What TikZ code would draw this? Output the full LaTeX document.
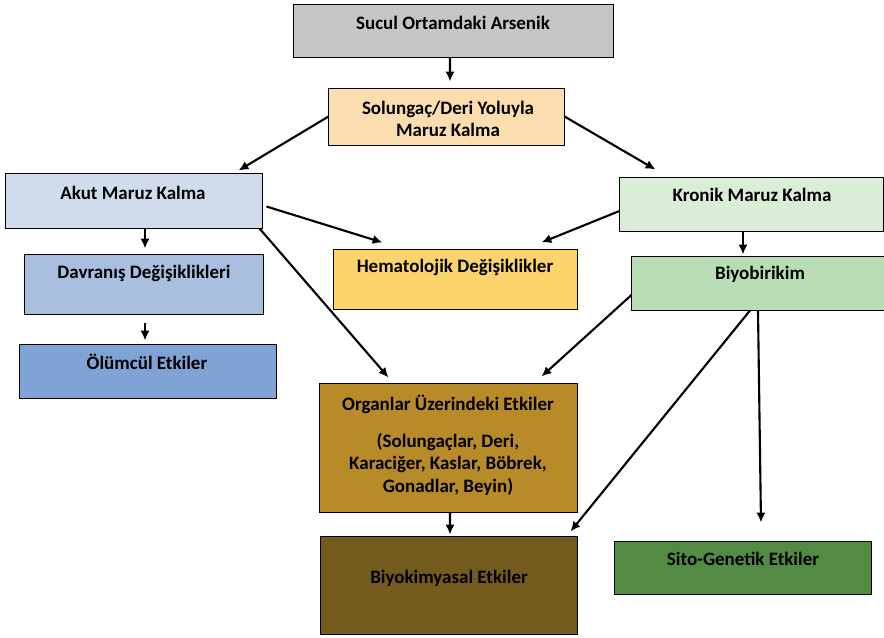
\documentclass[tikz,border=0pt]{standalone}
\usepackage{fontspec}
\setmainfont{Carlito}
\usepackage{tikz}
\usetikzlibrary{arrows.meta,calc}
\usepackage{xcolor}
\tikzset{>={Latex[length=7pt,width=6.5pt]}}
\definecolor{suculGray}{HTML}{C6C6C6}
\definecolor{maruzPeach}{HTML}{FCDDB0}
\definecolor{akutBlue}{HTML}{D0DCEC}
\definecolor{kronikGreen}{HTML}{DAEDD6}
\definecolor{davranisBlue}{HTML}{A9BFE0}
\definecolor{hematYellow}{HTML}{FCD46C}
\definecolor{biyobGreen}{HTML}{B8DDB4}
\definecolor{olumBlue}{HTML}{7FA3D5}
\definecolor{organGold}{HTML}{B78B28}
\definecolor{biyokBrown}{HTML}{735A1D}
\definecolor{sitoGreen}{HTML}{548B44}

\begin{document}
\begin{tikzpicture}[x=0.025cm, y=-0.025cm]
                \tikzstyle{box}=[rectangle, draw=black, line width=0.7pt, inner sep=0pt]
                \tikzstyle{lbl}=[align=center, inner sep=0pt, font=\fontsize{13.5}{16}\selectfont\bfseries]
                \tikzstyle{arr}=[->, line width=1.5pt]
                \useasboundingbox (0,0) rectangle (884,638);
                % boxes
                \node[box, fill=suculGray, minimum width=7.975cm, minimum height=1.325cm] (sucul) at (453.5,30.5) {};
                \node[box, fill=maruzPeach, minimum width=5.875cm, minimum height=1.425cm] (solungac) at (446.5,116.5) {};
                \node[box, fill=akutBlue, minimum width=6.4cm, minimum height=1.375cm] (akut) at (134,200.5) {};
                \node[box, fill=kronikGreen, minimum width=6.575cm, minimum height=1.35cm] (kronik) at (751.5,204) {};
                \node[box, fill=davranisBlue, minimum width=5.95cm, minimum height=1.5cm] (davranis) at (144,284) {};
                \node[box, fill=hematYellow, minimum width=6.075cm, minimum height=1.5cm] (hemat) at (455.5,279) {};
                \node[box, fill=biyobGreen, minimum width=6.3cm, minimum height=1.35cm] (biyob) at (758,283) {};
                \node[box, fill=olumBlue, minimum width=6.4cm, minimum height=1.35cm] (olumcul) at (148,371) {};
                \node[box, fill=organGold, minimum width=6.425cm, minimum height=3.2cm] (organ) at (448.5,448) {};
                \node[box, fill=biyokBrown, minimum width=6.4cm, minimum height=2.425cm] (biyok) at (449,585.5) {};
                \node[box, fill=sitoGreen, minimum width=6.4cm, minimum height=1.325cm] (sito) at (743,567.5) {};
                % texts
                \node[lbl] (sucul-t) at (453,23) {Sucul Ortamdaki Arsenik};
                \node[lbl] (solungac-t) at (448,119) {Solungaç/Deri Yoluyla\\Maruz Kalma};
                \node[lbl] (akut-t) at (133,193) {Akut Maruz Kalma};
                \node[lbl] (kronik-t) at (752,195) {Kronik Maruz Kalma};
                \node[lbl] (davranis-t) at (144,273) {Davranış Değişiklikleri};
                \node[lbl] (hemat-t) at (455,267) {Hematolojik Değişiklikler};
                \node[lbl] (biyob-t) at (760,274) {Biyobirikim};
                \node[lbl] (olumcul-t) at (147,362) {Ölümcül Etkiler};
                \node[lbl, anchor=north] (organ-t) at (448,395) {Organlar Üzerindeki Etkiler\\[10pt](Solungaçlar, Deri,\\Karaciğer, Kaslar, Böbrek,\\Gonadlar, Beyin)};
                \node[lbl] (biyok-t) at (449,578) {Biyokimyasal Etkiler};
                \node[lbl] (sito-t) at (743,559) {Sito-Genetik Etkiler};
                % arrows
                \draw[arr] ($(sucul.south)+(-3.5,0)$) -- ($(solungac.north)+(3.5,-6)$);
                \draw[arr] (solungac.west) -- ($(akut.north east)+(-24,-2)$);
                \draw[arr] (solungac.east) -- ($(kronik.north west)+(36,-7)$);
                \draw[arr] ($(akut.east)+(4,6)$) -- ($(hemat.north west)+(49,-6)$);
                \draw[arr] ($(kronik.west)+(0,7)$) -- ($(hemat.north east)+(-36,-6)$);
                \draw[arr] ($(akut.south)+(11,0)$) -- ($(davranis.north)+(1,-5)$);
                \draw[arr] ($(akut.south east)+(-3,0)$) -- ($(organ.north west)+(69,-6)$);
                \draw[arr] ($(davranis.south)+(1,8)$) -- ($(olumcul.north)+(-3,-3)$);
                \draw[arr] ($(kronik.south)+(-8.5,0)$) -- ($(biyob.north)+(-15,-1)$);
                \draw[arr] ($(biyob.west)+(0,12)$) -- ($(organ.north east)+(-36,-7)$);
                \draw[arr] ($(biyob.south)+(-8,0)$) -- ($(biyok.north east)+(-7,-5)$);
                \draw[arr] (biyob.south) -- ($(sito.north)+(18,-18)$);
                \draw[arr] ($(organ.south)+(1.5,0)$) -- ($(biyok.north)+(1,-2)$);
        \end{tikzpicture}
\end{document}
